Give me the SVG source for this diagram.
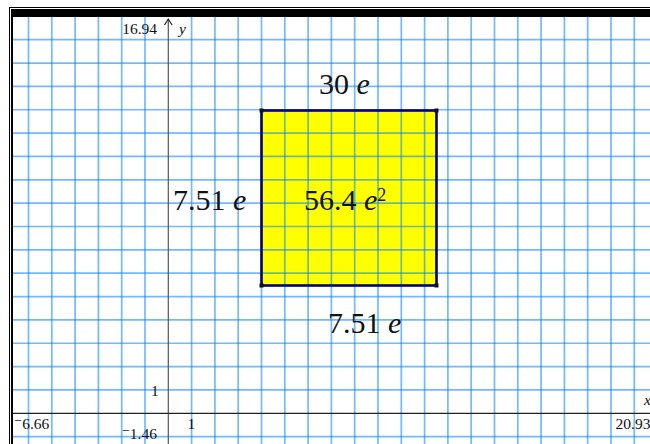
<svg xmlns="http://www.w3.org/2000/svg" width="650" height="444" viewBox="0 0 650 444">
<style>
.g line{stroke:#0080ff;stroke-opacity:0.55;stroke-width:1.7}
.s{font-family:"Liberation Serif","DejaVu Serif",serif;fill:#111}
.sm{font-size:15.5px}
.big{font-size:30px}
.it{font-style:italic}
</style>
<rect x="0" y="0" width="650" height="444" fill="#fff"/>
<g id="square">
<rect x="261.5" y="110.5" width="175" height="175" fill="#ffff00"/>
</g>
<g class="g" id="grid">
<line x1="28.5" y1="17" x2="28.5" y2="444"/><line x1="51.8" y1="17" x2="51.8" y2="444"/><line x1="75.1" y1="17" x2="75.1" y2="444"/><line x1="98.4" y1="17" x2="98.4" y2="444"/><line x1="121.7" y1="17" x2="121.7" y2="444"/><line x1="145" y1="17" x2="145" y2="444"/><line x1="191.6" y1="17" x2="191.6" y2="444"/><line x1="214.9" y1="17" x2="214.9" y2="444"/><line x1="238.2" y1="17" x2="238.2" y2="444"/><line x1="261.5" y1="17" x2="261.5" y2="444"/><line x1="284.8" y1="17" x2="284.8" y2="444"/><line x1="308.1" y1="17" x2="308.1" y2="444"/><line x1="331.4" y1="17" x2="331.4" y2="444"/><line x1="354.7" y1="17" x2="354.7" y2="444"/><line x1="378" y1="17" x2="378" y2="444"/><line x1="401.3" y1="17" x2="401.3" y2="444"/><line x1="424.6" y1="17" x2="424.6" y2="444"/><line x1="447.9" y1="17" x2="447.9" y2="444"/><line x1="471.2" y1="17" x2="471.2" y2="444"/><line x1="494.5" y1="17" x2="494.5" y2="444"/><line x1="517.8" y1="17" x2="517.8" y2="444"/><line x1="541.1" y1="17" x2="541.1" y2="444"/><line x1="564.4" y1="17" x2="564.4" y2="444"/><line x1="587.7" y1="17" x2="587.7" y2="444"/><line x1="611" y1="17" x2="611" y2="444"/><line x1="634.3" y1="17" x2="634.3" y2="444"/>
<line x1="12" y1="39.7" x2="650" y2="39.7"/><line x1="12" y1="63.05" x2="650" y2="63.05"/><line x1="12" y1="86.4" x2="650" y2="86.4"/><line x1="12" y1="109.75" x2="650" y2="109.75"/><line x1="12" y1="133.1" x2="650" y2="133.1"/><line x1="12" y1="156.45" x2="650" y2="156.45"/><line x1="12" y1="179.8" x2="650" y2="179.8"/><line x1="12" y1="203.15" x2="650" y2="203.15"/><line x1="12" y1="226.5" x2="650" y2="226.5"/><line x1="12" y1="249.85" x2="650" y2="249.85"/><line x1="12" y1="273.2" x2="650" y2="273.2"/><line x1="12" y1="296.55" x2="650" y2="296.55"/><line x1="12" y1="319.9" x2="650" y2="319.9"/><line x1="12" y1="343.25" x2="650" y2="343.25"/><line x1="12" y1="366.6" x2="650" y2="366.6"/><line x1="12" y1="389.95" x2="650" y2="389.95"/><line x1="12" y1="436.65" x2="650" y2="436.65"/>
</g>
<g id="axes">
<line x1="168.3" y1="19" x2="168.3" y2="444" stroke="#555" stroke-width="1.2"/>
<path d="M164.5,25 L168.3,19 L172.1,25" fill="none" stroke="#222" stroke-width="1.2"/>
<line x1="12" y1="413.3" x2="650" y2="413.3" stroke="#222" stroke-width="1.2"/>
</g>
<g id="square-outline">
<rect x="261.5" y="110.5" width="175" height="175" fill="none" stroke="#000080" stroke-width="2.6"/>
<g fill="#111">
<rect x="259.5" y="108.5" width="4" height="4"/><rect x="434.5" y="108.5" width="4" height="4"/>
<rect x="259.5" y="283.5" width="4" height="4"/><rect x="434.5" y="283.5" width="4" height="4"/>
</g>
</g>
<g id="labels">
<text class="s sm" x="157" y="34" text-anchor="end">16.94</text>
<text class="s sm it" x="179" y="34">y</text>
<text class="s sm" x="151" y="395.5">1</text>
<text class="s sm" x="14" y="429">⁻6.66</text>
<text class="s sm" x="157" y="439" text-anchor="end">⁻1.46</text>
<text class="s sm" x="187.5" y="429">1</text>
<text class="s sm" x="615.5" y="429">20.93</text>
<text class="s sm it" x="644" y="405">x</text>
<text class="s big" x="319" y="94.3">30 <tspan class="it">e</tspan></text>
<text class="s big" x="173" y="210">7.51 <tspan class="it">e</tspan></text>
<text class="s big" x="304" y="210">56.4 <tspan class="it">e</tspan><tspan font-size="18" dy="-9">2</tspan></text>
<text class="s big" x="328" y="333.3">7.51 <tspan class="it">e</tspan></text>
</g>
<g id="frame">
<line x1="9.5" y1="7.5" x2="9.5" y2="444" stroke="#000" stroke-width="1"/>
<line x1="9" y1="7.5" x2="650" y2="7.5" stroke="#000" stroke-width="1"/>
<rect x="11" y="9" width="639" height="8" fill="#000"/>
<line x1="12" y1="9" x2="12" y2="444" stroke="#000" stroke-width="2"/>
</g>
</svg>
